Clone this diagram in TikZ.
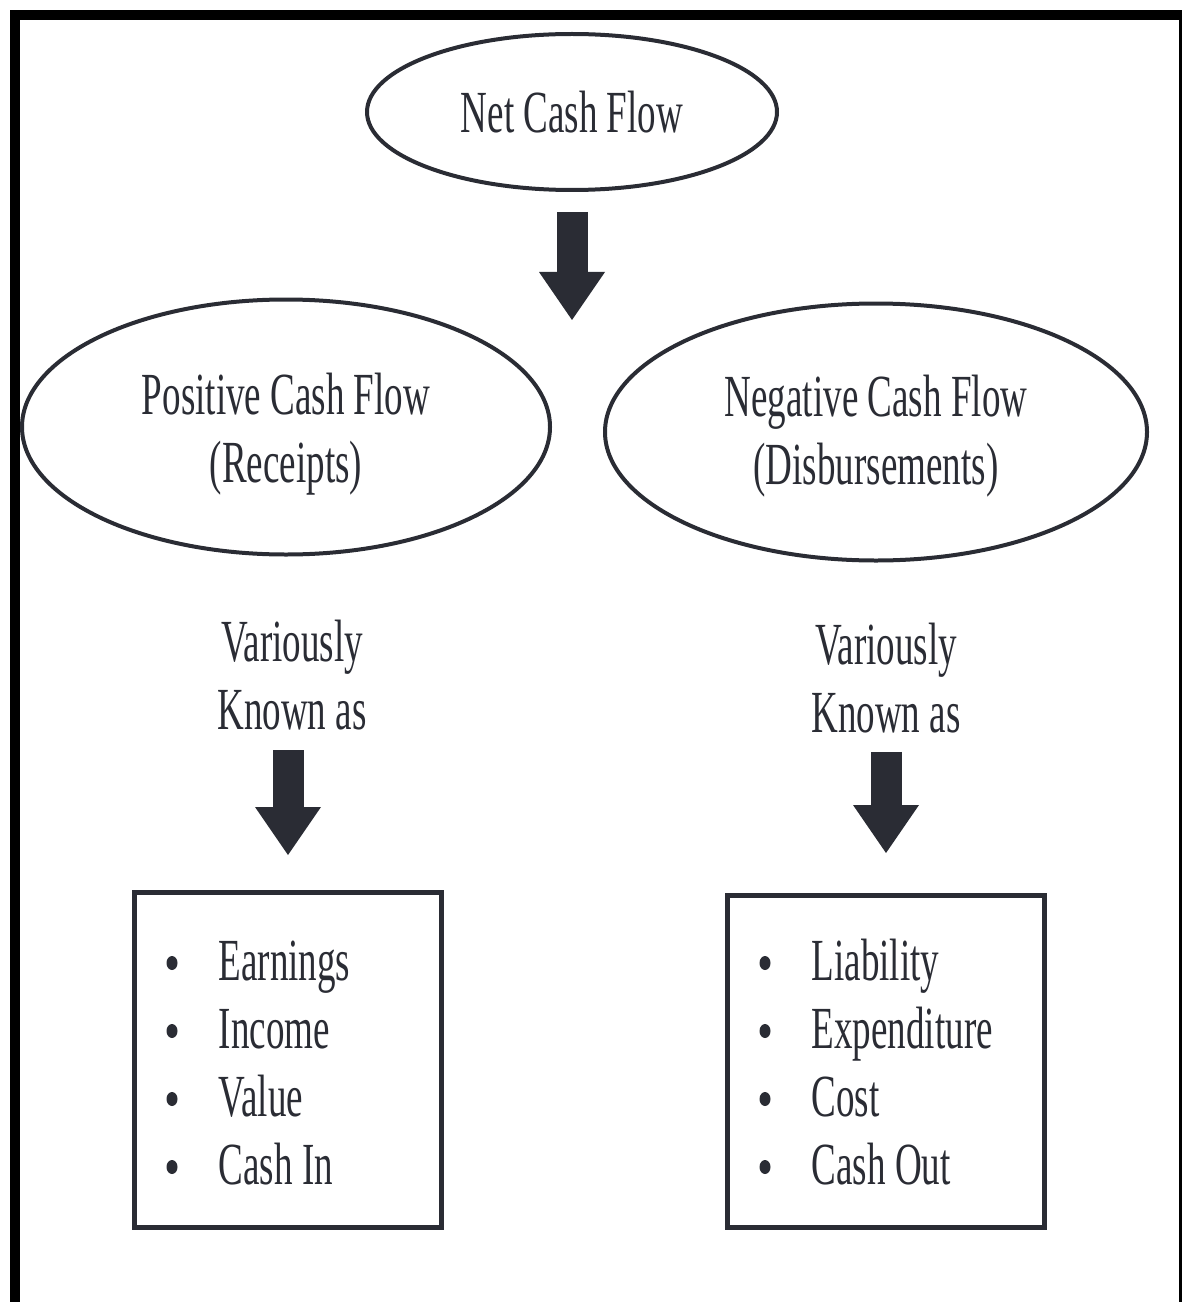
\documentclass[tikz,border=0pt]{standalone}
\usepackage{fontspec}
\setmainfont[FakeStretch=0.62]{Liberation Serif}
\usetikzlibrary{shapes.geometric, arrows.meta}
\definecolor{ink}{RGB}{42,44,52}
\newcommand{\itemlist}[4]{
  \foreach \x [count=\i] in {#4}{
    \node [bullet] (#1-b\i) at (#2,{#3+0.17-(\i-1)*0.68}) {};
    \node [item] (#1-t\i) at ({#2+0.46},{#3-(\i-1)*0.68}) {\x};
  }
}

\begin{document}
\begin{tikzpicture}[
    every node/.style={text=ink, font=\fontsize{17}{19.5}\selectfont},
    oval/.style={ellipse, draw=ink, line width=.04cm, inner sep=0pt, align=center},
    label/.style={inner sep=0pt, align=center},
    listbox/.style={draw=ink, line width=.05cm},
    bullet/.style={ellipse, fill=ink, inner sep=0pt, minimum width=.11cm, minimum height=.14cm},
    item/.style={anchor=base west, inner sep=0pt},
    bigarrow/.style={ink, line width=.31cm, -{Triangle[width=.66cm, length=.48cm, line width=0pt]}}
  ]
    \useasboundingbox (0,0) rectangle (11.82,-13.02);
    \draw [line width=.10cm] (.15,-13.02) |- (11.82,-.15);
    \draw [line width=.03cm] (11.805,-.15) -- (11.805,-13.02);

    \node [oval, minimum width=4.10cm, minimum height=1.56cm] (net) at (5.72,-1.12) {Net Cash Flow};
    \node [oval, minimum width=5.28cm, minimum height=2.55cm] (pos) at (2.86,-4.27) {};
    \node [label] (post) at ([yshift=-.07cm]pos) {Positive Cash Flow\\(Receipts)};
    \node [oval, minimum width=5.42cm, minimum height=2.57cm] (neg) at (8.76,-4.32) {};
    \node [label] (negt) at ([yshift=-.04cm]neg) {Negative Cash Flow\\(Disbursements)};

    \node [label] (posv) at (2.92,-6.75) {Variously\\Known as};
    \node [label] (negv) at (8.86,-6.78) {Variously\\Known as};

    \node [listbox, minimum width=3.07cm, minimum height=3.35cm] (posl) at (2.88,-10.60) {};
    \node [listbox, minimum width=3.17cm, minimum height=3.32cm] (negl) at (8.86,-10.615) {};
    \itemlist{posl}{1.72}{-9.80}{Earnings,Income,Value,Cash In}
    \itemlist{negl}{7.65}{-9.80}{Liability,Expenditure,Cost,Cash Out}

    \draw [bigarrow] ([yshift=-.20cm]net.south) -- ++(0,-1.08);
    \draw [bigarrow] ([yshift=1.40cm]posl.north) -- ([yshift=.35cm]posl.north);
    \draw [bigarrow] ([yshift=-.18cm]negv.south) -- ([yshift=.40cm]negl.north);
  \end{tikzpicture}
\end{document}
